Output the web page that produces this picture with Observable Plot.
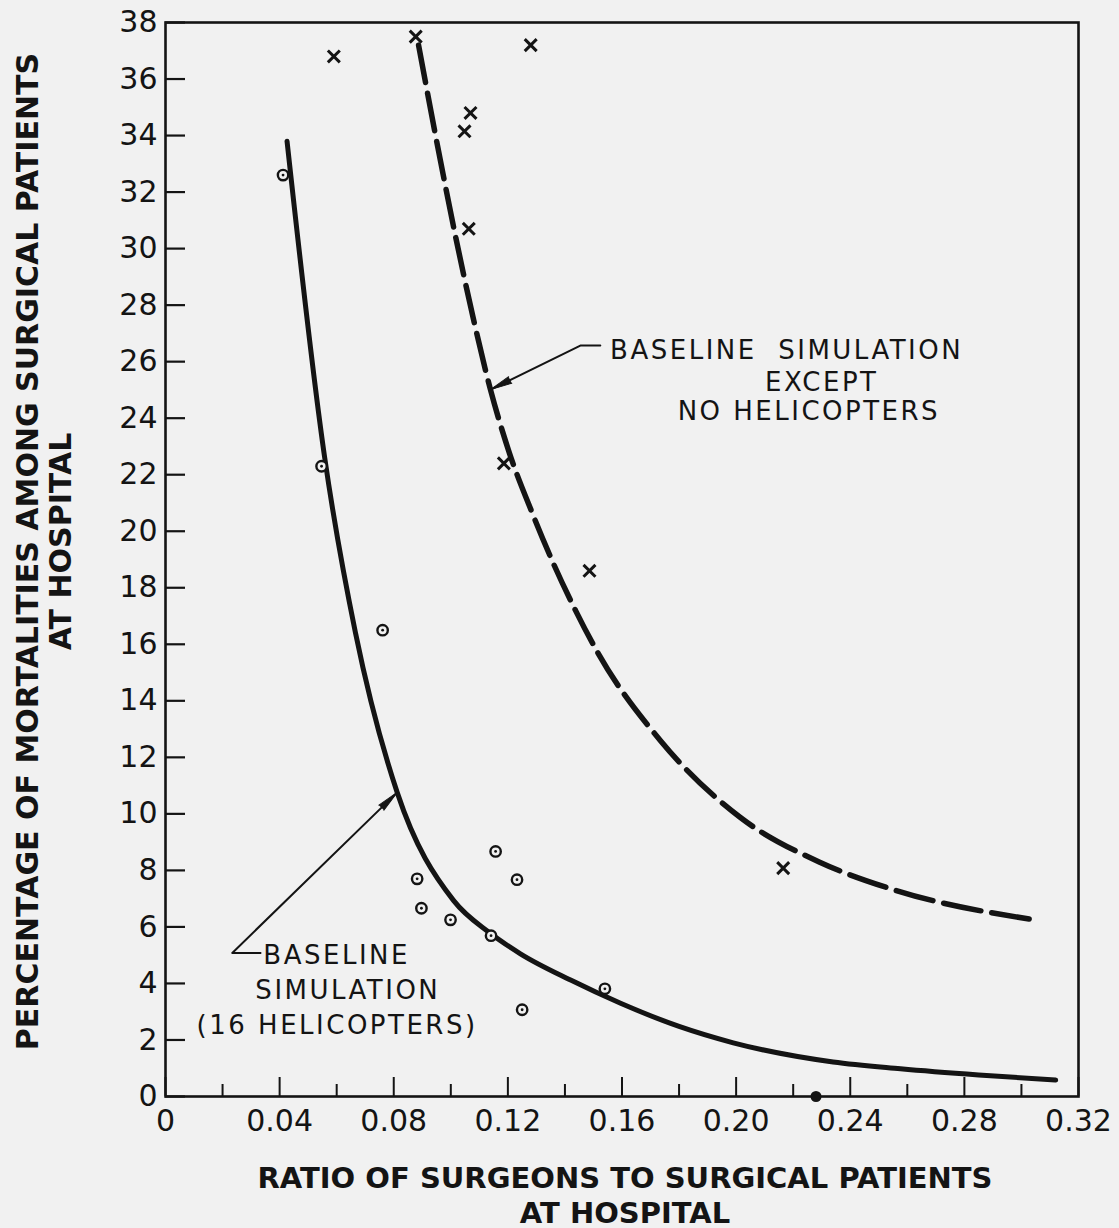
<!DOCTYPE html>
<html>
<head>
<meta charset="utf-8">
<script src="https://cdn.jsdelivr.net/npm/d3@7"></script>
<script src="https://cdn.jsdelivr.net/npm/@observablehq/plot@0.6"></script>
<style>
  html, body { margin: 0; padding: 0; background: #f1f1f1; }
</style>
</head>
<body>
<div id="chart"></div>
<script>
// ---- tick labels ----
const xTicks = [0, 0.04, 0.08, 0.12, 0.16, 0.20, 0.24, 0.28, 0.32];
const xMinorTicks = [0.02, 0.06, 0.10, 0.14, 0.18, 0.22, 0.26, 0.30];
const yTicks = [0, 2, 4, 6, 8, 10, 12, 14, 16, 18, 20, 22, 24, 26, 28, 30, 32, 34, 36, 38];

// ---- baseline simulation curve (16 helicopters) ----
const solidX = [0.0426, 0.0558, 0.0666, 0.0812, 0.1010, 0.1135, 0.1244, 0.1420, 0.1595, 0.1800, 0.1990, 0.2340, 0.2576, 0.2850, 0.3120];
const solidY = [33.8, 22.6, 16.4, 10.76, 6.93, 5.8, 5.05, 4.12, 3.3, 2.48, 1.9, 1.22, 0.98, 0.76, 0.58];

// ---- baseline simulation except no helicopters curve ----
const dashedX = [0.0887, 0.0950, 0.1016, 0.1079, 0.1139, 0.1206, 0.1286, 0.1360, 0.1437, 0.1517, 0.1735, 0.2015, 0.2295, 0.2551, 0.3056];
const dashedY = [37.2, 33.82, 30.46, 27.52, 25.01, 22.75, 20.63, 18.85, 17.2, 15.67, 12.59, 9.87, 8.28, 7.32, 6.23];

// ---- observed points: 16 helicopters (circles) ----
const circleX = [0.0412, 0.0547, 0.0761, 0.1157, 0.0882, 0.1232, 0.0897, 0.0999, 0.1141, 0.1540, 0.1250];
const circleY = [32.6, 22.3, 16.5, 8.67, 7.70, 7.67, 6.66, 6.25, 5.69, 3.81, 3.07];

// ---- observed points: no helicopters (crosses) ----
const crossX = [0.0590, 0.0877, 0.1280, 0.1069, 0.1048, 0.1063, 0.1186, 0.1486, 0.2165];
const crossY = [36.8, 37.5, 37.2, 34.8, 34.15, 30.7, 22.4, 18.6, 8.08];

// ---- point on the axis (filled) ----
const axisDotX = [0.228];
const axisDotY = [0];

// ---- annotation leader lines (tail ... tip) ----
const arrowLowerX = [0.0333, 0.0234, 0.0812];
const arrowLowerY = [5.08, 5.08, 10.76];
const arrowUpperX = [0.1524, 0.1454, 0.1139];
const arrowUpperY = [26.57, 26.57, 25.01];

// ---- annotation texts ----
const lowerText = ["BASELINE", "SIMULATION", "(16 HELICOPTERS)"];
const lowerTextX = [0.0343, 0.0315, 0.0109];
const lowerTextY = [5.0, 3.75, 2.51];
const upperText = ["BASELINE  SIMULATION", "EXCEPT", "NO HELICOPTERS"];
const upperTextX = [0.2177, 0.2300, 0.2255];
const upperTextY = [26.39, 25.27, 24.23];

const xTitle = ["RATIO OF SURGEONS TO SURGICAL PATIENTS", "AT HOSPITAL"];
const yTitle = ["PERCENTAGE OF MORTALITIES AMONG SURGICAL PATIENTS", "AT HOSPITAL"];

// ---- build tables ----
const zip = (xs, ys) => xs.map((x, i) => ({x, y: ys[i]}));
const solid = zip(solidX, solidY);
const dashed = zip(dashedX, dashedY);
const circles = zip(circleX, circleY);
const crosses = zip(crossX, crossY);
const axisDots = zip(axisDotX, axisDotY);
const arrowLower = zip(arrowLowerX, arrowLowerY);
const arrowUpper = zip(arrowUpperX, arrowUpperY);
const lowerAnn = lowerText.map((t, i) => ({t, x: lowerTextX[i], y: lowerTextY[i]}));
const upperAnn = upperText.map((t, i) => ({t, x: upperTextX[i], y: upperTextY[i]}));

const ink = "#141414";
const bg = "#f1f1f1";
const layout = {
  width: 1119,
  height: 1228,
  marginLeft: 165,
  marginRight: 41,
  marginTop: 22,
  marginBottom: 132,
  x: {domain: [0, 0.32], label: null},
  y: {domain: [0, 38], label: null},
  style: {fontFamily: "DejaVu Sans", background: bg, color: ink, overflow: "visible"}
};

// probe the scales to orient arrowheads along the last leader segment
const probe = Plot.plot({...layout, marks: [Plot.frame()]});
const sx = probe.scale("x"), sy = probe.scale("y");
function head(path) {
  const a = path[path.length - 2], b = path[path.length - 1];
  const dx = sx.apply(b.x) - sx.apply(a.x);
  const dy = sy.apply(b.y) - sy.apply(a.y);
  return {x: b.x, y: b.y, rotate: Math.atan2(dx, -dy) * 180 / Math.PI};
}
const heads = [head(arrowLower), head(arrowUpper)];

const fmt = d => d === 0 ? "0" : d.toFixed(2);

const chart = Plot.plot({
  ...layout,
  marks: [
    // axes: labels
    Plot.axisY(yTicks, {anchor: "left", tickSize: 0, tickPadding: 8, fontSize: 30, label: null}),
    Plot.axisX(xTicks, {anchor: "bottom", tickSize: 0, tickPadding: 13, fontSize: 30, tickFormat: fmt, label: null}),
    // axes: inward ticks
    Plot.axisY(yTicks, {anchor: "left", tickSize: 20, dx: 20, tickFormat: () => "", strokeWidth: 2.2, label: null}),
    Plot.axisX(xTicks, {anchor: "bottom", tickSize: 19, dy: -19, tickFormat: () => "", strokeWidth: 2, label: null}),
    Plot.axisX(xMinorTicks, {anchor: "bottom", tickSize: 12, dy: -12, tickFormat: () => "", strokeWidth: 2, label: null}),
    Plot.frame({stroke: ink, strokeWidth: 2.6}),

    // curves
    Plot.line(solid, {x: "x", y: "y", curve: "monotone-x", stroke: ink, strokeWidth: 5, strokeLinecap: "round"}),
    Plot.line(dashed, {x: "x", y: "y", curve: "monotone-x", stroke: ink, strokeWidth: 5.5, strokeDasharray: "38 11"}),

    // leader lines + arrowheads
    Plot.line(arrowLower, {x: "x", y: "y", stroke: ink, strokeWidth: 2}),
    Plot.line(arrowUpper, {x: "x", y: "y", stroke: ink, strokeWidth: 2}),
    Plot.vector(heads, {x: "x", y: "y", rotate: "rotate", length: 22, r: 3.6, shape: "spike", anchor: "end", fill: ink, stroke: ink, strokeWidth: 1}),

    // points
    Plot.dot(circles, {x: "x", y: "y", r: 5.2, stroke: ink, strokeWidth: 2.4, fill: bg}),
    Plot.dot(circles, {x: "x", y: "y", r: 1.4, fill: ink}),
    Plot.dot(crosses, {x: "x", y: "y", symbol: "times", r: 5.5, stroke: ink, strokeWidth: 3}),
    Plot.dot(axisDots, {x: "x", y: "y", r: 5.5, fill: ink}),

    // annotations
    Plot.text(lowerAnn, {x: "x", y: "y", text: "t", textAnchor: "start", lineAnchor: "middle", fontSize: 26, fill: ink}),
    Plot.text(upperAnn, {x: "x", y: "y", text: "t", textAnchor: "middle", lineAnchor: "middle", fontSize: 26, fill: ink}),

    // axis titles
    Plot.text([xTitle[0]], {frameAnchor: "bottom", dx: 3, dy: 82, textAnchor: "middle", lineAnchor: "middle", fontSize: 29, fontWeight: "bold", fill: ink}),
    Plot.text([xTitle[1]], {frameAnchor: "bottom", dx: 3, dy: 117, textAnchor: "middle", lineAnchor: "middle", fontSize: 29, fontWeight: "bold", fill: ink}),
    Plot.text([yTitle[0]], {frameAnchor: "left", dx: -137, dy: -8, rotate: -90, textAnchor: "middle", lineAnchor: "middle", fontSize: 30, fontWeight: "bold", fill: ink}),
    Plot.text([yTitle[1]], {frameAnchor: "left", dx: -104, dy: -18, rotate: -90, textAnchor: "middle", lineAnchor: "middle", fontSize: 30, fontWeight: "bold", fill: ink})
  ]
});

// hand-lettered annotations are widely spaced: apply letter spacing to those two marks
const textGroups = Array.from(chart.querySelectorAll('g[aria-label="text"]'));
textGroups.forEach(g => {
  const texts = Array.from(g.querySelectorAll("text"));
  const contents = texts.map(t => t.textContent);
  if (contents.includes("EXCEPT")) {
    texts.forEach(t => { t.style.letterSpacing = "2.5px"; t.style.whiteSpace = "pre"; });
  } else if (contents.includes("(16 HELICOPTERS)")) {
    texts.forEach(t => { t.style.letterSpacing = "2.5px"; });
  }
});

document.getElementById("chart").appendChild(chart);
</script>
</body>
</html>
